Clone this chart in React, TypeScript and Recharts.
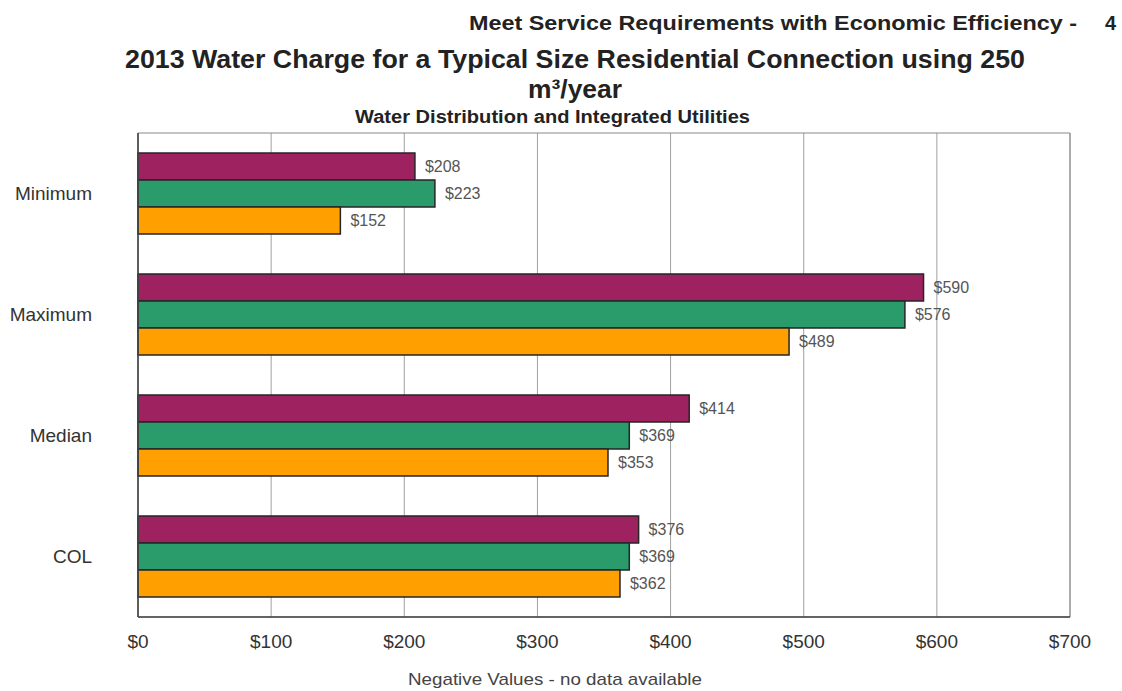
import React from 'react';
import {
  BarChart,
  Bar,
  XAxis,
  YAxis,
  CartesianGrid,
  ReferenceArea,
  LabelList,
} from 'recharts';

// values (dollars per year)
const categories = ['Minimum', 'Maximum', 'Median', 'COL'];
const purpleValues = [208, 590, 414, 376];
const greenValues = [223, 576, 369, 369];
const orangeValues = [152, 489, 353, 362];
const xTicks = [0, 100, 200, 300, 400, 500, 600, 700];

const data = categories.map((name, i) => ({
  name,
  purple: purpleValues[i],
  green: greenValues[i],
  orange: orangeValues[i],
}));

const FONT = '"Liberation Sans", Arial, sans-serif';
const money = (v: number) => `$${v}`;

function Titles() {
  return (
    <svg
      width={1122}
      height={691}
      style={{ position: 'absolute', left: 0, top: 0, pointerEvents: 'none' }}
      fontFamily={FONT}
    >
      <text x={469} y={30} fontSize={20} fontWeight="bold" fill="#222" textLength={608} lengthAdjust="spacingAndGlyphs">
        Meet Service Requirements with Economic Efficiency -
      </text>
      <text x={1105} y={30} fontSize={20} fontWeight="bold" fill="#222">
        4
      </text>
      <text x={125} y={68} fontSize={25} fontWeight="bold" fill="#222" textLength={900} lengthAdjust="spacingAndGlyphs">
        2013 Water Charge for a Typical Size Residential Connection using 250
      </text>
      <text x={528} y={98} fontSize={25} fontWeight="bold" fill="#222" textLength={94} lengthAdjust="spacingAndGlyphs">
        m³/year
      </text>
      <text x={355} y={123} fontSize={18} fontWeight="bold" fill="#222" textLength={395} lengthAdjust="spacingAndGlyphs">
        Water Distribution and Integrated Utilities
      </text>
      <text x={408} y={685} fontSize={17} fill="#444" textLength={294} lengthAdjust="spacingAndGlyphs">
        Negative Values - no data available
      </text>
    </svg>
  );
}

export default function App() {
  return (
    <div style={{ position: 'absolute', left: 0, top: 0, width: 1122, height: 691, background: '#fff', fontFamily: FONT }}>
      <BarChart
        width={1122}
        height={691}
        data={data}
        layout="vertical"
        margin={{ top: 133, right: 52, bottom: 0, left: 0 }}
        barCategoryGap="16.5%"
        barGap={0}
      >
        <CartesianGrid horizontal={false} stroke="#a0a0a0" />
        <ReferenceArea x1={0} x2={700} fill="none" fillOpacity={0} stroke="#888" strokeWidth={1} />

        <XAxis
          type="number"
          domain={[0, 700]}
          ticks={xTicks}
          tickFormatter={money}
          tickLine={false}
          tickSize={0}
          tickMargin={18}
          height={74}
          axisLine={{ stroke: '#444', strokeWidth: 1.5 }}
          tick={{ fill: '#333', fontSize: 19, fontFamily: FONT }}
        />

        <YAxis
          type="category"
          dataKey="name"
          width={138}
          tickLine={false}
          tickSize={0}
          tickMargin={46}
          axisLine={{ stroke: '#444', strokeWidth: 1.5 }}
          tick={{ fill: '#333', fontSize: 19, fontFamily: FONT }}
        />

        <Bar dataKey="purple" fill="#9e2160" stroke="#262626" strokeWidth={1.5} isAnimationActive={false}>
          <LabelList dataKey="purple" position="right" offset={10} formatter={money} fill="#555" fontSize={16} fontFamily={FONT} />
        </Bar>
        <Bar dataKey="green" fill="#2a9b6b" stroke="#262626" strokeWidth={1.5} isAnimationActive={false}>
          <LabelList dataKey="green" position="right" offset={10} formatter={money} fill="#555" fontSize={16} fontFamily={FONT} />
        </Bar>
        <Bar dataKey="orange" fill="#ffa000" stroke="#262626" strokeWidth={1.5} isAnimationActive={false}>
          <LabelList dataKey="orange" position="right" offset={10} formatter={money} fill="#555" fontSize={16} fontFamily={FONT} />
        </Bar>
      </BarChart>
      <Titles />
    </div>
  );
}
